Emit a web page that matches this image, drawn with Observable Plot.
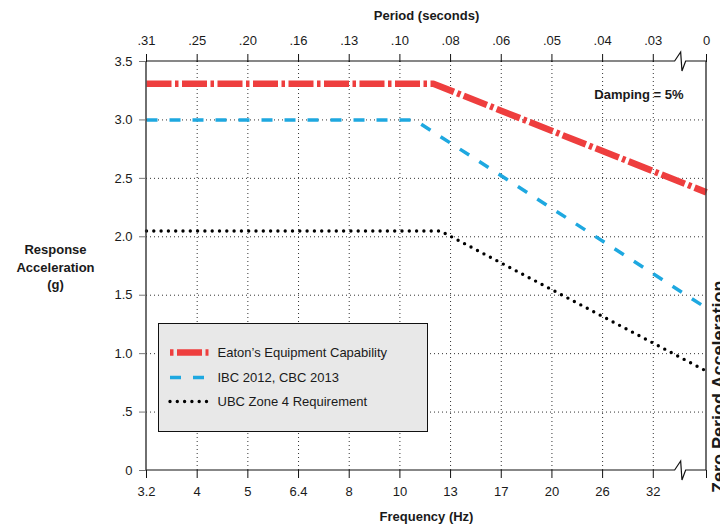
<!DOCTYPE html>
<html><head><meta charset="utf-8">
<script src="https://cdn.jsdelivr.net/npm/d3@7"></script>
<script src="https://cdn.jsdelivr.net/npm/@observablehq/plot@0.6"></script>
<style>body{margin:0;background:#fff} svg{display:block}</style>
</head><body><div id="chart"></div>
<script>
// ---- tick labels (axis positions are equally spaced: index 0..10, ZPA at the right edge)
const freqLabels = ["3.2","4","5","6.4","8","10","13","17","20","26","32"];
const periodLabels = [".31",".25",".20",".16",".13",".10",".08",".06",".05",".04",".03"];
const zpaLabel = "0";
const zpaPos = 11.05;      // axis position of the zero-period column
const breakPos = 10.55;    // axis position of the scale break
const yTicks = [0, 0.5, 1, 1.5, 2, 2.5, 3, 3.5];
const yTickLabels = ["0", ".5", "1.0", "1.5", "2.0", "2.5", "3.0", "3.5"];

// ---- series (x = axis position, y = response acceleration in g)
const seriesNames = ["Eaton’s Equipment Capability", "IBC 2012, CBC 2013", "UBC Zone 4 Requirement"];
const eatonX = [0, 5.66, 11.05];
const eatonY = [3.31, 3.31, 2.38];
const ibcX = [0, 5.29, 11.05];
const ibcY = [3.0, 3.0, 1.39];
const ubcX = [0, 5.8, 11.05];
const ubcY = [2.05, 2.05, 0.85];

// ---- styles
const styles = [
  {stroke: "#ee3e3e", strokeWidth: 6.5, dash: "25,3.5,3.5,3.5", cap: "butt", legendOffset: 28.5},
  {stroke: "#1ea8e0", strokeWidth: 3.5, dash: "11,12", cap: "butt", legendOffset: 0},
  {stroke: "#000000", strokeWidth: 3.4, dash: "0,7.3", cap: "round", legendOffset: 0}
];

const toRows = (xs, ys) => xs.map((x, i) => ({x, y: ys[i]}));
const series = [toRows(eatonX, eatonY), toRows(ibcX, ibcY), toRows(ubcX, ubcY)];

const FONT = "'Liberation Sans', Arial, Helvetica, sans-serif";
const INK = "#1a1a1a";

function frameWithBreak(index, scales) {
  const {x, y} = scales;
  const g = d3.create("svg:g").attr("fill", "none").attr("stroke", "#111").attr("stroke-width", 1.2);
  const bx = x(breakPos), x0 = x(0), x1 = x(zpaPos);
  for (const v of [yTicks[0], yTicks[yTicks.length - 1]]) {
    const yy = y(v);
    g.append("path").attr("d",
      `M${x0},${yy}H${bx - 6}L${bx},${yy - 9}L${bx + 1.3},${yy + 10}L${bx + 5},${yy}H${x1}`);
  }
  g.append("line").attr("x1", x0).attr("x2", x0).attr("y1", y(yTicks[0])).attr("y2", y(yTicks[yTicks.length - 1])).attr("stroke", "#333").attr("stroke-width", 1.4);
  g.append("line").attr("x1", x1).attr("x2", x1).attr("y1", y(yTicks[0])).attr("y2", y(yTicks[yTicks.length - 1])).attr("stroke", "#333").attr("stroke-width", 1.4);
  return g.node();
}

function legend(index, scales, values, dims) {
  const left = dims.marginLeft + 12.5;
  const top = dims.height - dims.marginBottom - 146.5;
  const g = d3.create("svg:g");
  g.append("rect").attr("x", left).attr("y", top).attr("width", 269).attr("height", 108)
    .attr("fill", "#e8e8e8").attr("stroke", "#111").attr("stroke-width", 1);
  const rowY = [29, 54, 78];
  seriesNames.forEach((name, i) => {
    const s = styles[i];
    const yy = top + rowY[i];
    g.append("line").attr("x1", left + 11.5).attr("x2", left + 50).attr("y1", yy).attr("y2", yy)
      .attr("stroke", s.stroke).attr("stroke-width", s.strokeWidth)
      .attr("stroke-dasharray", s.dash).attr("stroke-dashoffset", s.legendOffset)
      .attr("stroke-linecap", s.cap);
    g.append("text").attr("x", left + 59).attr("y", yy).attr("dy", "0.35em")
      .attr("text-anchor", "start")
      .attr("fill", INK).attr("font-size", 13).attr("font-family", FONT).text(name);
  });
  return g.node();
}

const xTickPos = d3.range(0, freqLabels.length);
const bottomLabel = new Map(xTickPos.map(i => [i, freqLabels[i]]));
bottomLabel.set(zpaPos, "");
const topLabel = new Map(xTickPos.map(i => [i, periodLabels[i]]));
topLabel.set(zpaPos, zpaLabel);
const yLabel = new Map(yTicks.map((v, i) => [v, yTickLabels[i]]));

const chart = Plot.plot({
  width: 720,
  height: 525,
  marginLeft: 146,
  marginRight: 14,
  marginTop: 61,
  marginBottom: 55,
  style: {fontFamily: FONT, fontSize: "13px", color: INK, background: "#fff"},
  x: {domain: [0, zpaPos]},
  y: {domain: [yTicks[0], yTicks[yTicks.length - 1]]},
  marks: [
    Plot.ruleX(d3.range(1, freqLabels.length), {stroke: "#333", strokeWidth: 1, strokeDasharray: "1,3"}),
    Plot.ruleY(yTicks.slice(1, -1), {stroke: "#333", strokeWidth: 1, strokeDasharray: "1,3"}),
    ...series.map((d, i) => Plot.line(d, {
      x: "x", y: "y",
      stroke: styles[i].stroke, strokeWidth: styles[i].strokeWidth,
      strokeDasharray: styles[i].dash, strokeLinecap: styles[i].cap, strokeLinejoin: "miter"
    })),
    frameWithBreak,
    Plot.axisX([...xTickPos, zpaPos], {anchor: "bottom", tickFormat: d => bottomLabel.get(d), tickSize: 8, tickPadding: 8, fontSize: 13, label: null, stroke: "#111"}),
    Plot.axisX([...xTickPos, zpaPos], {anchor: "top", tickFormat: d => topLabel.get(d), tickSize: 8, tickPadding: 9, fontSize: 13, label: null, stroke: "#111"}),
    Plot.axisY(yTicks, {anchor: "left", tickFormat: d => yLabel.get(d), tickSize: 7, tickPadding: 7, fontSize: 13, label: null, stroke: "#777"}),
    Plot.text(["Period (seconds)"], {frameAnchor: "top", dy: -46, lineAnchor: "middle", fontWeight: "bold", fontSize: 13, fill: INK}),
    Plot.text(["Frequency (Hz)"], {frameAnchor: "bottom", dy: 46, lineAnchor: "middle", fontWeight: "bold", fontSize: 13, fill: INK}),
    Plot.text(["Response\nAcceleration\n(g)"], {frameAnchor: "left", dx: -91, textAnchor: "middle", lineAnchor: "middle", lineHeight: 1.35, fontWeight: "bold", fontSize: 13, fill: INK}),
    Plot.text(["Damping = 5%"], {frameAnchor: "top-right", dx: -23, dy: 33, textAnchor: "end", lineAnchor: "middle", fontWeight: "bold", fontSize: 13, fill: INK}),
    Plot.text(["Zero Period Acceleration"], {frameAnchor: "top-right", dx: 18, dy: 219, rotate: -90, textAnchor: "end", lineAnchor: "bottom", fontWeight: "bold", fontSize: 18, fill: INK}),
    legend
  ]
});
document.getElementById("chart").appendChild(chart);
</script>
</body></html>
